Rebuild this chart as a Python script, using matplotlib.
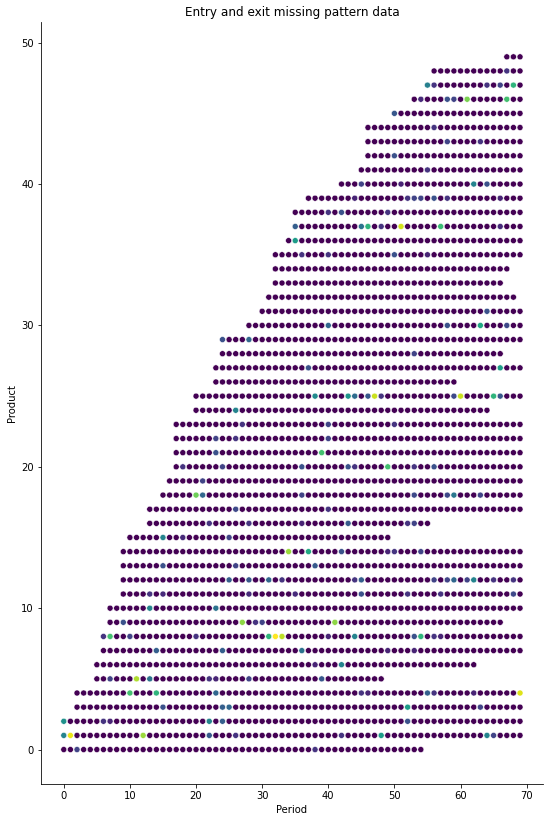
import matplotlib
matplotlib.use("Agg")
import matplotlib.pyplot as plt
import numpy as np

# first and last period observed for every product (index = product id)
product_start = [0, 0, 0, 2, 2, 5, 5, 6, 6, 7,
                 7, 9, 9, 9, 9, 10, 13, 13, 15, 16,
                 17, 17, 17, 17, 20, 20, 23, 23, 24, 24,
                 28, 30, 31, 32, 32, 32, 34, 35, 35, 37,
                 42, 45, 46, 46, 46, 50, 53, 55, 56, 67]
product_end = [54, 69, 69, 69, 69, 48, 62, 69, 69, 66,
               69, 69, 69, 69, 69, 49, 55, 69, 69, 69,
               69, 69, 69, 69, 64, 69, 59, 69, 66, 69,
               69, 69, 68, 66, 67, 69, 69, 69, 69, 69,
               69, 69, 69, 69, 69, 69, 69, 69, 69, 69]

# points whose missing share is above zero (product, period, share)
hl_product = [0, 0,
              1, 1, 1, 1, 1, 1, 1, 1, 1,
              2, 2, 2, 2, 2, 2,
              3, 3, 3, 3, 3,
              4, 4, 4, 4, 4, 4, 4, 4, 4,
              5, 5, 5, 5, 5, 5, 5,
              6, 6,
              7, 7, 7, 7, 7,
              8, 8, 8, 8, 8, 8, 8, 8, 8, 8, 8, 8, 8,
              9, 9, 9, 9, 9,
              10, 10,
              11, 11, 11, 11, 11, 11, 11, 11,
              12, 12, 12, 12, 12, 12, 12, 12, 12, 12, 12, 12, 12,
              13, 13, 13,
              14, 14, 14, 14, 14, 14,
              15, 15, 15,
              16, 16, 16, 16, 16, 16,
              17, 17,
              18, 18, 18, 18, 18, 18, 18,
              19,
              20, 20, 20, 20, 20, 20, 20, 20,
              21, 21,
              22, 22, 22,
              23, 23, 23,
              24,
              25, 25, 25, 25, 25, 25, 25, 25, 25, 25,
              27, 27,
              28,
              29, 29,
              30, 30, 30, 30,
              31,
              35, 35, 35, 35,
              36,
              37, 37, 37, 37, 37, 37, 37,
              38, 38, 38,
              39, 39, 39, 39, 39, 39, 39,
              40, 40, 40, 40,
              41,
              42,
              43, 43,
              44,
              45,
              46, 46, 46, 46, 46,
              47, 47, 47, 47, 47,
              48]
hl_period = [2, 38,
             0, 1, 12, 22, 26, 42, 48, 64, 65,
             0, 6, 7, 22, 24, 52,
             15, 24, 25, 52, 63,
             10, 14, 23, 45, 46, 55, 56, 62, 69,
             7, 11, 13, 22, 23, 28, 39,
             38, 42,
             14, 24, 36, 49, 53,
             6, 7, 10, 20, 31, 32, 33, 40, 44, 53, 54, 56, 57,
             9, 27, 29, 30, 41,
             13, 23,
             13, 15, 28, 35, 45, 52, 57, 68,
             25, 28, 31, 33, 44, 45, 56, 58, 59, 61, 62, 65, 68,
             15, 26, 38,
             34, 37, 42, 49, 50, 54,
             15, 18, 25,
             22, 28, 36, 43, 52, 53,
             26, 40,
             20, 21, 36, 53, 58, 59, 63,
             21,
             18, 24, 36, 43, 44, 49, 53, 56,
             23, 39,
             23, 26, 40,
             27, 40, 50,
             26,
             38, 43, 44, 46, 47, 48, 59, 60, 65, 66,
             37, 66,
             53,
             24, 28,
             40, 58, 63, 67,
             64,
             36, 40, 50, 55,
             35,
             35, 45, 46, 48, 51, 57, 66,
             40, 42, 49,
             44, 52, 53, 54, 56, 58, 66,
             45, 51, 62, 64,
             55,
             50,
             58, 63,
             56,
             50,
             54, 58, 59, 61, 67,
             55, 56, 64, 66, 68,
             67]
hl_value = [0.2, 0.15,
            0.45, 0.97, 0.85, 0.28, 0.15, 0.15, 0.55, 0.45, 0.2,
            0.5, 0.15, 0.1, 0.45, 0.3, 0.25,
            0.25, 0.3, 0.33, 0.55, 0.2,
            0.7, 0.65, 0.33, 0.15, 0.1, 0.3, 0.15, 0.1, 0.95,
            0.2, 0.88, 0.38, 0.15, 0.1, 0.2, 0.27,
            0.1, 0.45,
            0.3, 0.3, 0.38, 0.1, 0.1,
            0.15, 0.7, 0.2, 0.15, 0.65, 1.0, 0.9, 0.1, 0.45, 0.25, 0.65, 0.15, 0.1,
            0.25, 0.83, 0.15, 0.2, 0.83,
            0.45, 0.38,
            0.15, 0.12, 0.12, 0.12, 0.25, 0.15, 0.15, 0.22,
            0.3, 0.27, 0.33, 0.15, 0.15, 0.3, 0.2, 0.2, 0.33, 0.2, 0.45, 0.15, 0.15,
            0.25, 0.2, 0.28,
            0.85, 0.6, 0.25, 0.1, 0.15, 0.2,
            0.45, 0.12, 0.2,
            0.15, 0.15, 0.1, 0.28, 0.15, 0.2,
            0.22, 0.15,
            0.78, 0.33, 0.2, 0.22, 0.22, 0.4, 0.2,
            0.2,
            0.15, 0.2, 0.25, 0.25, 0.15, 0.7, 0.15, 0.25,
            0.25, 0.7,
            0.2, 0.15, 0.2,
            0.15, 0.2, 0.15,
            0.45,
            0.48, 0.52, 0.35, 0.27, 0.92, 0.15, 0.22, 0.92, 0.65, 0.27,
            0.25, 0.55,
            0.2,
            0.25, 0.33,
            0.33, 0.25, 0.6, 0.22,
            0.25,
            0.15, 0.15, 0.25, 0.1,
            0.55,
            0.3, 0.38, 0.65, 0.15, 0.93, 0.68, 0.12,
            0.15, 0.25, 0.15,
            0.1, 0.15, 0.2, 0.2, 0.25, 0.15, 0.1,
            0.2, 0.1, 0.45, 0.25,
            0.15,
            0.25,
            0.2, 0.15,
            0.15,
            0.27,
            0.12, 0.25, 0.2, 0.8, 0.7,
            0.43, 0.15, 0.15, 0.2, 0.65,
            0.15]

# build the long table of (period, product, share)
shares = {(p, t): v for p, t, v in zip(hl_product, hl_period, hl_value)}
periods, products, values = [], [], []
for p, (a, b) in enumerate(zip(product_start, product_end)):
    for t in range(a, b + 1):
        periods.append(t)
        products.append(p)
        values.append(shares.get((p, t), 0.0))

fig, ax = plt.subplots(figsize=(550 / 72, 822 / 72), dpi=72)
fig.subplots_adjust(left=0.0745, right=0.987, top=0.973, bottom=0.046)

ax.scatter(periods, products, c=values, cmap="viridis", vmin=0, vmax=1,
           s=36, edgecolors="white", linewidths=0.5)

ax.set_xticks(np.arange(0, 71, 10))
ax.set_yticks(np.arange(0, 51, 10))
ax.set_xlabel("Period")
ax.set_ylabel("Product")
ax.set_title("Entry and exit missing pattern data")
ax.spines["top"].set_visible(False)
ax.spines["right"].set_visible(False)

fig.savefig("out.png", dpi=72)
